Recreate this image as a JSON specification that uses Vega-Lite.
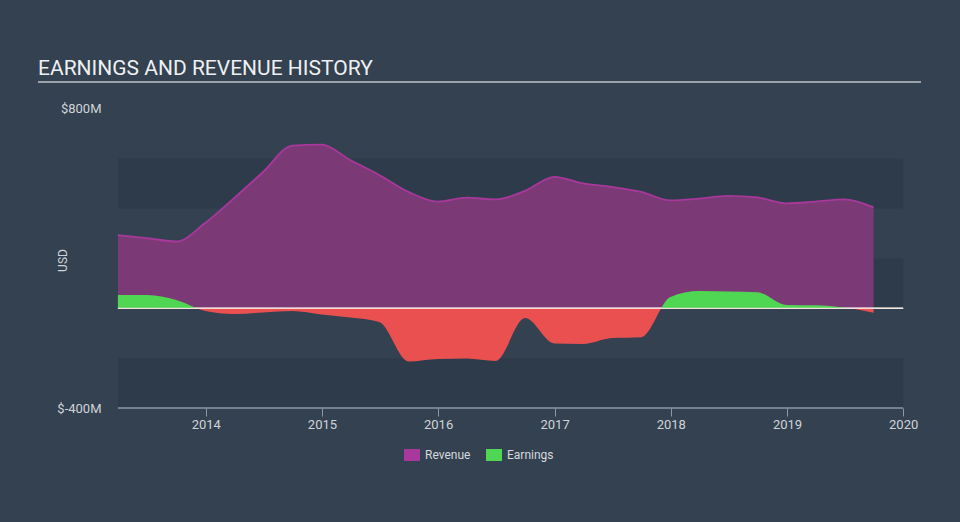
{
  "$schema": "https://vega.github.io/schema/vega-lite/v6.json",
  "width": 883,
  "height": 326,
  "autosize": {"type": "none"},
  "padding": {"left": 38, "top": 82, "right": 39, "bottom": 114},
  "background": "#334150",
  "title": {
    "text": "EARNINGS AND REVENUE HISTORY",
    "anchor": "start",
    "frame": "group",
    "font": "Roboto",
    "fontSize": 21,
    "fontWeight": "normal",
    "color": "#eef0f2",
    "baseline": "alphabetic",
    "offset": -15
  },
  "config": {
    "view": {"stroke": null},
    "font": "Roboto"
  },
  "datasets": {
    "history": [
      {"date": "2013-03-31", "revenue": 294, "earnings": 53},
      {"date": "2013-06-30", "revenue": 282, "earnings": 53},
      {"date": "2013-09-30", "revenue": 268, "earnings": 33},
      {"date": "2013-12-31", "revenue": 343, "earnings": -11},
      {"date": "2014-03-31", "revenue": 442, "earnings": -23},
      {"date": "2014-06-30", "revenue": 547, "earnings": -17},
      {"date": "2014-09-30", "revenue": 653, "earnings": -11},
      {"date": "2014-12-31", "revenue": 657, "earnings": -25},
      {"date": "2015-03-31", "revenue": 595, "earnings": -37},
      {"date": "2015-06-30", "revenue": 535, "earnings": -55},
      {"date": "2015-09-30", "revenue": 467, "earnings": -213},
      {"date": "2015-12-31", "revenue": 428, "earnings": -203},
      {"date": "2016-03-31", "revenue": 444, "earnings": -201},
      {"date": "2016-06-30", "revenue": 437, "earnings": -211},
      {"date": "2016-09-30", "revenue": 471, "earnings": -39},
      {"date": "2016-12-31", "revenue": 527, "earnings": -141},
      {"date": "2017-03-31", "revenue": 501, "earnings": -143},
      {"date": "2017-06-30", "revenue": 487, "earnings": -119},
      {"date": "2017-09-30", "revenue": 467, "earnings": -116},
      {"date": "2017-12-31", "revenue": 433, "earnings": 45},
      {"date": "2018-03-31", "revenue": 440, "earnings": 69},
      {"date": "2018-06-30", "revenue": 451, "earnings": 67},
      {"date": "2018-09-30", "revenue": 445, "earnings": 64},
      {"date": "2018-12-31", "revenue": 421, "earnings": 13},
      {"date": "2019-03-31", "revenue": 428, "earnings": 12},
      {"date": "2019-06-30", "revenue": 437, "earnings": 3},
      {"date": "2019-09-30", "revenue": 405, "earnings": -18}
    ],
    "bands": [
      {"lo": 400, "hi": 600},
      {"lo": 0, "hi": 200},
      {"lo": -400, "hi": -200}
    ]
  },
  "layer": [
    {
      "data": {"name": "bands"},
      "mark": {"type": "rect", "fill": "#2e3b4a"},
      "encoding": {
        "x": {
          "datum": {"year": 2013, "month": 3, "date": 31, "utc": true},
          "type": "temporal",
          "scale": {
            "domain": [
              {"year": 2012, "month": 7, "date": 23, "utc": true},
              {"year": 2020, "month": 2, "date": 26, "utc": true}
            ],
            "nice": false
          },
          "axis": {
            "title": null,
            "orient": "bottom",
            "domain": false,
            "grid": false,
            "ticks": true,
            "tickSize": 8,
            "tickColor": "#8d98a4",
            "tickWidth": 1,
            "values": [
              {"year": 2014, "month": 1, "date": 1, "utc": true},
              {"year": 2015, "month": 1, "date": 1, "utc": true},
              {"year": 2016, "month": 1, "date": 1, "utc": true},
              {"year": 2017, "month": 1, "date": 1, "utc": true},
              {"year": 2018, "month": 1, "date": 1, "utc": true},
              {"year": 2019, "month": 1, "date": 1, "utc": true},
              {"year": 2020, "month": 1, "date": 1, "utc": true}
            ],
            "labelExpr": "utcFormat(datum.value, '%Y')",
            "labelFont": "Roboto",
            "labelFontSize": 13,
            "labelColor": "#d0d4d9",
            "labelPadding": 2,
            "labelFlush": false,
            "labelOverlap": false
          }
        },
        "x2": {"datum": {"year": 2020, "month": 1, "date": 1, "utc": true}},
        "y": {
          "field": "lo",
          "type": "quantitative",
          "scale": {"domain": [-400, 908], "nice": false, "zero": false},
          "axis": {
            "title": "USD",
            "orient": "left",
            "offset": -64,
            "domain": false,
            "ticks": false,
            "grid": false,
            "values": [800, -400],
            "labelExpr": "'$' + datum.value + 'M'",
            "labelFont": "Roboto",
            "labelFontSize": 13,
            "labelColor": "#d0d4d9",
            "labelBaseline": "middle",
            "labelPadding": 1,
            "titleFont": "Roboto",
            "titleFontSize": 12,
            "titleFontWeight": "normal",
            "titleColor": "#d0d4d9",
            "titleAngle": -90,
            "titleBaseline": "middle",
            "titleAlign": "center",
            "titleX": -40,
            "titleY": 178
          }
        },
        "y2": {"field": "hi"}
      }
    },
    {
      "data": {"name": "history"},
      "mark": {"type": "area", "interpolate": "monotone", "fill": "#7b3a75"},
      "encoding": {
        "x": {"field": "date", "type": "temporal"},
        "y": {"field": "revenue", "type": "quantitative"}
      }
    },
    {
      "data": {"values": [{}]},
      "mark": {"type": "rule", "color": "#ffffff", "opacity": 0.95, "strokeWidth": 1.5},
      "encoding": {
        "x": {"datum": {"year": 2013, "month": 3, "date": 31, "utc": true}, "type": "temporal"},
        "x2": {"datum": {"year": 2020, "month": 1, "date": 1, "utc": true}},
        "y": {"datum": 0, "type": "quantitative"}
      }
    },
    {
      "data": {"name": "history"},
      "mark": {
        "type": "area",
        "interpolate": "monotone",
        "fill": {
          "gradient": "linear",
          "x1": 0, "y1": 0, "x2": 0, "y2": 1,
          "stops": [
            {"offset": 0, "color": "#4fd653"},
            {"offset": 0.2447, "color": "#4fd653"},
            {"offset": 0.2447, "color": "#eb5050"},
            {"offset": 1, "color": "#eb5050"}
          ]
        }
      },
      "encoding": {
        "x": {"field": "date", "type": "temporal"},
        "y": {"field": "earnings", "type": "quantitative"}
      }
    },
    {
      "data": {"name": "history"},
      "mark": {"type": "line", "interpolate": "monotone", "strokeWidth": 1.8},
      "encoding": {
        "x": {"field": "date", "type": "temporal"},
        "y": {"field": "revenue", "type": "quantitative"},
        "color": {
          "datum": "Revenue",
          "type": "nominal",
          "scale": {"domain": ["Revenue", "Earnings"], "range": ["#a8389c", "#4fd653"]},
          "legend": {
            "title": null,
            "orient": "none",
            "direction": "horizontal",
            "legendX": 366,
            "legendY": 365,
            "padding": 0,
            "symbolType": "M-1,-0.75H1V0.75H-1Z",
            "symbolSize": 256,
            "symbolStrokeWidth": 0,
            "labelFont": "Roboto",
            "labelFontSize": 12,
            "labelColor": "#d6d9dd",
            "labelOffset": 5,
            "columnPadding": 15,
            "encode": {
              "symbols": {
                "update": {
                  "fill": {"scale": "color", "field": "value"},
                  "strokeWidth": {"value": 0},
                  "opacity": {"value": 1}
                }
              }
            }
          }
        }
      }
    },
    {
      "data": {"values": [{}]},
      "mark": {"type": "rule", "color": "#f6e4e0", "opacity": 0.9, "strokeWidth": 1.2},
      "encoding": {
        "x": {"datum": {"year": 2013, "month": 3, "date": 31, "utc": true}, "type": "temporal"},
        "x2": {"datum": {"year": 2020, "month": 1, "date": 1, "utc": true}},
        "y": {"datum": 0, "type": "quantitative"}
      }
    },
    {
      "data": {"values": [{}]},
      "mark": {"type": "rule", "color": "#8d98a4", "strokeWidth": 1.5},
      "encoding": {
        "x": {"datum": {"year": 2013, "month": 3, "date": 31, "utc": true}, "type": "temporal"},
        "x2": {"datum": {"year": 2020, "month": 1, "date": 1, "utc": true}},
        "y": {"datum": -400, "type": "quantitative"}
      }
    },
    {
      "data": {"values": [{}]},
      "mark": {"type": "rule", "color": "#9ba2aa", "strokeWidth": 2},
      "encoding": {
        "y": {"datum": 908, "type": "quantitative"}
      }
    }
  ]
}
